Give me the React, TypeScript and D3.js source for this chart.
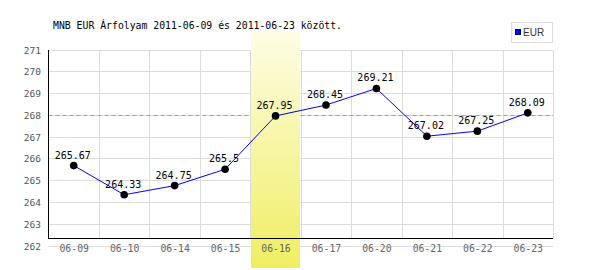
import React from "react";
import * as d3 from "d3";

const categories = ["06-09", "06-10", "06-14", "06-15", "06-16", "06-17", "06-20", "06-21", "06-22", "06-23"];
const values = [265.67, 264.33, 264.75, 265.5, 267.95, 268.45, 269.21, 267.02, 267.25, 268.09];
const valueLabels = ["265.67", "264.33", "264.75", "265.5", "267.95", "268.45", "269.21", "267.02", "267.25", "268.09"];
const yTicks = [262, 263, 264, 265, 266, 267, 268, 269, 270, 271];
const avgValue = 268;
const highlightCategory = "06-16";
const seriesName = "EUR";
const title = "MNB EUR Árfolyam 2011-06-09 és 2011-06-23 között.";

const W = 600;
const H = 270;
const left = 48.5;
const right = 553;
const axisY = 238.5;

export default function App() {
  const x = d3.scaleBand<string>().domain(categories).range([left, right]).padding(0);
  const y = d3.scaleLinear().domain([262, 271]).range([245.5, 49.5]);
  const cx = (c: string) => (x(c) as number) + x.bandwidth() / 2;
  const line = d3
    .line<number>()
    .x((_, i) => cx(categories[i]))
    .y((d) => y(d));
  const mono = "'DejaVu Sans Mono', 'Liberation Mono', monospace";
  const hx = x(highlightCategory) as number;

  return (
    <svg width={W} height={H} style={{ position: "absolute", left: 0, top: 0, background: "#fff" }}>
      <defs>
        <linearGradient id="hl" x1="0" y1="0" x2="0" y2="1">
          <stop offset="0%" stopColor="#fdfde4" />
          <stop offset="100%" stopColor="#f0ee62" />
        </linearGradient>
      </defs>
      <text x={53} y={29} fontFamily={mono} fontSize={9.8} fill="#000">
        {title}
      </text>
      {yTicks.map((t) => (
        <line
          key={"h" + t}
          x1={left}
          x2={right}
          y1={Math.round(y(t)) + 0.5}
          y2={Math.round(y(t)) + 0.5}
          stroke="#dcdcdc"
          strokeWidth={1}
        />
      ))}
      {categories.map((c) => (
        <line
          key={"v" + c}
          x1={Math.round((x(c) as number) + x.bandwidth()) + 0.5}
          x2={Math.round((x(c) as number) + x.bandwidth()) + 0.5}
          y1={Math.round(y(271)) + 0.5}
          y2={axisY}
          stroke="#dcdcdc"
          strokeWidth={1}
        />
      ))}
      <line
        x1={left}
        x2={right}
        y1={Math.round(y(avgValue)) + 0.5}
        y2={Math.round(y(avgValue)) + 0.5}
        stroke="#9a9acc"
        strokeDasharray="4,3"
        strokeWidth={1}
      />
      <rect x={Math.round(hx) + 1} y={32} width={Math.round(x.bandwidth()) - 1} height={236} fill="url(#hl)" />
      <line x1={left} x2={left} y1={Math.round(y(271))} y2={axisY + 0.5} stroke="#000" strokeWidth={1} />
      <line x1={left} x2={right} y1={axisY} y2={axisY} stroke="#000" strokeWidth={1} />
      {yTicks.map((t) => (
        <text key={"yl" + t} x={41} y={y(t) + 4} textAnchor="end" fontFamily={mono} fontSize={9.5} fill="#555">
          {t}
        </text>
      ))}
      {categories.map((c) => (
        <text key={"xl" + c} x={cx(c) + 0.5} y={252} textAnchor="middle" fontFamily={mono} fontSize={9.8} fill="#666">
          {c}
        </text>
      ))}
      <path d={line(values) || ""} fill="none" stroke="#0000ff" strokeWidth={1} />
      {values.map((v, i) => (
        <circle key={"p" + i} cx={cx(categories[i])} cy={y(v)} r={3.8} fill="#000" />
      ))}
      {values.map((v, i) => (
        <text
          key={"lab" + i}
          x={cx(categories[i]) - 1}
          y={y(v) - 7}
          textAnchor="middle"
          fontFamily={mono}
          fontSize={10}
          fill="#000"
        >
          {valueLabels[i]}
        </text>
      ))}
      <rect x={511.5} y={22.5} width={41} height={20} fill="#fff" stroke="#dddddd" strokeWidth={1} />
      <rect x={515.5} y={29.5} width={5} height={5} fill="#0000ff" stroke="#000066" strokeWidth={1} />
      <text x={523} y={36} fontFamily="'Liberation Sans', Arial, sans-serif" fontSize={10} fill="#333">
        {seriesName}
      </text>
    </svg>
  );
}
